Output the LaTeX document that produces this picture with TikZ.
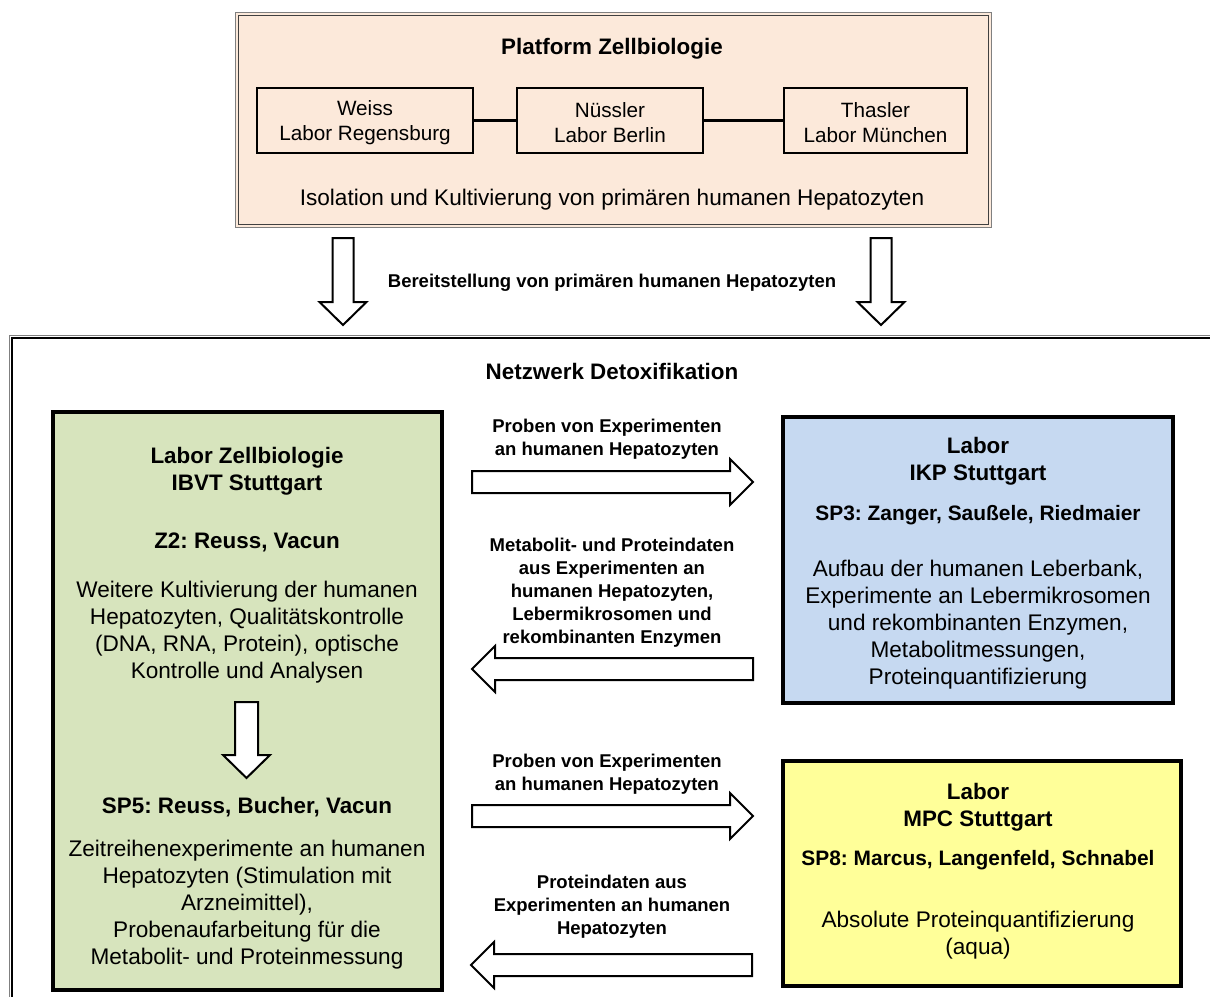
\documentclass[tikz,border=0pt]{standalone}
\usepackage{fontspec}
\setmainfont{Liberation Sans}
\frenchspacing
\definecolor{peach}{HTML}{FCE9DA}
\definecolor{greenfill}{HTML}{D7E4BD}
\definecolor{bluefill}{HTML}{C6D9F1}
\definecolor{yellowfill}{HTML}{FFFF99}
\definecolor{framegray}{HTML}{808080}
\tikzset{
  body/.style={align=center, inner sep=0pt, yshift=-2.5pt, font=\fontsize{22.6}{27}\selectfont},
  headtxt/.style={align=center, inner sep=0pt, yshift=-2.5pt, font=\bfseries\fontsize{22.4}{27}\selectfont},
  sphead/.style={align=center, inner sep=0pt, yshift=-2.5pt, font=\bfseries\fontsize{20.9}{27}\selectfont},
  lbl/.style={align=center, inner sep=0pt, yshift=-2pt, font=\bfseries\fontsize{18.5}{23}\selectfont},
  labbox/.style={draw, line width=2pt, fill=peach, minimum height=65pt, inner sep=0pt},
  labtxt/.style={align=center, inner sep=0pt, yshift=-2.5pt, font=\fontsize{20.7}{25}\selectfont},
  bigbox/.style={draw, line width=3.5pt, inner sep=0pt},
  blockarrow/.style={draw, line width=2pt, fill=white, line join=miter},
  downarr/.pic={\draw[blockarrow] (-10.5,0) -- (10.5,0) -- (10.5,64) -- (23.5,64) -- (0,87)
      -- (-23.5,64) -- (-10.5,64) -- cycle;},
  smalldown/.pic={\draw[blockarrow] (-11.5,0) -- (11.5,0) -- (11.5,53) -- (23.5,53) -- (0,76)
      -- (-23.5,53) -- (-11.5,53) -- cycle;},
  rarr/.pic={\draw[blockarrow] (0,-11) -- (258,-11) -- (258,-23) -- (281,0) -- (258,23)
      -- (258,11) -- (0,11) -- cycle;},
}
\begin{document}
\begin{tikzpicture}[x=1pt,y=-1pt]
\useasboundingbox (0,0) rectangle (1210,996);
\clip (0,0) rectangle (1210,996);
\fill[white] (0,0) rectangle (1210,996);

% ---- Platform Zellbiologie ----
\node[draw=framegray, line width=1pt, fill=peach, minimum width=756pt, minimum height=215pt, inner sep=0pt]
  (platform) at (613,119.5) {};
\node[draw=black!75, line width=0.8pt, minimum width=750pt, minimum height=209pt, inner sep=0pt]
  (platforminner) at (613,119.5) {};
\node[headtxt] (ptitle) at (612,46) {Platform Zellbiologie};
\node[labbox, minimum width=216pt] (weiss) at (365,120.5) {};
\node[labbox, minimum width=186pt] (nuessler) at (610,120.5) {};
\node[labbox, minimum width=183pt] (thasler) at (875.5,120.5) {};
\node[labtxt] (weisstxt) at (weiss.center) {Weiss\\Labor Regensburg};
\node[labtxt] (nuesslertxt) at (nuessler.center) {Nüssler\\Labor Berlin};
\node[labtxt] (thaslertxt) at (thasler.center) {Thasler\\Labor München};
\draw[line width=2.5pt] (weiss.east) -- (nuessler.west);
\draw[line width=2.5pt] (nuessler.east) -- (thasler.west);
\node[body] (iso) at (612,197) {Isolation und Kultivierung von primären humanen Hepatozyten};

% ---- down arrows ----
\pic at (343,238) {downarr};
\pic at (881,238) {downarr};
\node[lbl] (bereit) at (612,281) {Bereitstellung von primären humanen Hepatozyten};

% ---- outer frame ----
\draw[framegray, line width=1pt] (9,1000) -- (9,335) -- (1215,335);
\draw[black, line width=1.5pt] (12,1000) -- (12,338) -- (1215,338);
\node[headtxt] (netz) at (612,369) {Netzwerk Detoxifikation};

% ---- green box ----
\node[bigbox, fill=greenfill, minimum width=389pt, minimum height=578pt] (zell) at (247.5,701) {};
\node[headtxt] (zellhead) at (247,468.5) {Labor Zellbiologie\\IBVT Stuttgart};
\node[headtxt] (ztwo) at (247,540) {Z2: Reuss, Vacun};
\node[body] (zellbody) at (247,629.5) {Weitere Kultivierung der humanen\\Hepatozyten, Qualitätskontrolle\\(DNA, RNA, Protein), optische\\Kontrolle und Analysen};
\pic at (246.5,702) {smalldown};
\node[headtxt] (spfive) at (247,805) {SP5: Reuss, Bucher, Vacun};
\node[body] (spfivebody) at (247,902) {Zeitreihenexperimente an humanen\\Hepatozyten (Stimulation mit\\Arzneimittel),\\Probenaufarbeitung für die\\Metabolit- und Proteinmessung};

% ---- blue box ----
\node[bigbox, fill=bluefill, minimum width=390pt, minimum height=286pt] (ikp) at (978,560) {};
\node[headtxt] (ikphead) at (978,458.5) {Labor\\IKP Stuttgart};
\node[sphead] (spthree) at (978,513) {SP3: Zanger, Saußele, Riedmaier};
\node[body] (ikpbody) at (978,622) {Aufbau der humanen Leberbank,\\Experimente an Lebermikrosomen\\und rekombinanten Enzymen,\\Metabolitmessungen,\\Proteinquantifizierung};

% ---- yellow box ----
\node[bigbox, fill=yellowfill, minimum width=398pt, minimum height=225pt] (mpc) at (982,873.5) {};
\node[headtxt] (mpchead) at (978,804.5) {Labor\\MPC Stuttgart};
\node[sphead] (speight) at (978,858) {SP8: Marcus, Langenfeld, Schnabel};
\node[body] (mpcbody) at (978,932.5) {Absolute Proteinquantifizierung\\(aqua)};

% ---- horizontal arrows and labels ----
\node[lbl] (lab1) at (607,437.5) {Proben von Experimenten\\an humanen Hepatozyten};
\pic at (472,482) {rarr};
\node[lbl] (lab2) at (612,591) {Metabolit- und Proteindaten\\aus Experimenten an\\humanen Hepatozyten,\\Lebermikrosomen und\\rekombinanten Enzymen};
\pic[rotate=180] at (753,669) {rarr};
\node[lbl] (lab3) at (607,772.5) {Proben von Experimenten\\an humanen Hepatozyten};
\pic at (472,816) {rarr};
\node[lbl] (lab4) at (612,905) {Proteindaten aus\\Experimenten an humanen\\Hepatozyten};
\pic[rotate=180] at (752,965) {rarr};
\end{tikzpicture}
\end{document}
